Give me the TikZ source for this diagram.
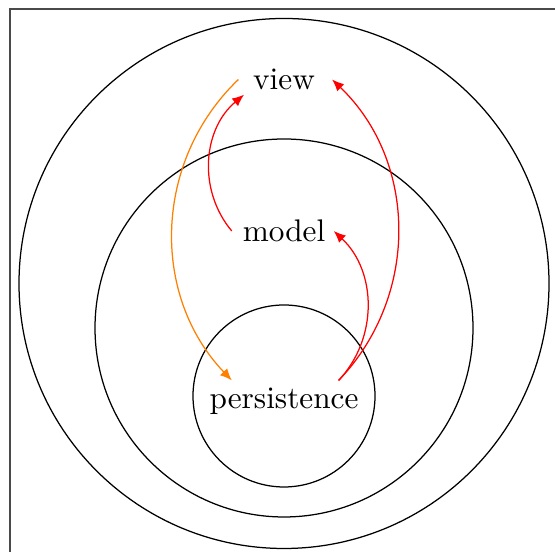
\documentclass[tikz,border=0pt]{standalone}
\usetikzlibrary{arrows.meta}
\definecolor{frameGray}{HTML}{4A4A4A}
\definecolor{depRed}{HTML}{FF0000}
\definecolor{depOrange}{HTML}{FF8000}
\tikzset{
  ring/.style={draw=black, line width=0.4pt},
  layer/.style={font=\normalsize, inner sep=3.33pt},
  dep/.style={-{Latex[length=3.8pt,width=3.2pt]}, line width=0.4pt},
}
\begin{document}
\begin{tikzpicture}[x=0.32pt,y=0.32pt]
  \useasboundingbox (0,0) rectangle (555,552);
  \clip (0,0) rectangle (555,552);
  \draw[frameGray,line width=0.5pt] (10,-20) rectangle (580,543);

  % rings
  \draw[ring] (284,268.5) circle (265);
  \draw[ring] (284,224) circle (189);
  \draw[ring] (284,156) circle (91);

  % layers
  \node[layer] (view) at (284,472.5) {view};
  \node[layer] (model) at (284,321) {model};
  \node[layer] (persistence) at (284,151) {persistence};

  % dependencies
  \draw[dep,depOrange] ([xshift=-1.2pt]view.west) to[bend right=45]
    ([yshift=-1.2pt]persistence.155);
  \draw[dep,depRed] (model.west) to[bend left=45] ([xshift=0.6pt]view.200);
  \draw[dep,depRed] ([yshift=-1.2pt]persistence.24) to[bend right=45]
    ([xshift=-0.8pt]model.east);
  \draw[dep,depRed] ([yshift=-1.2pt]persistence.24) to[bend right=45]
    ([xshift=2pt]view.east);
\end{tikzpicture}
\end{document}
